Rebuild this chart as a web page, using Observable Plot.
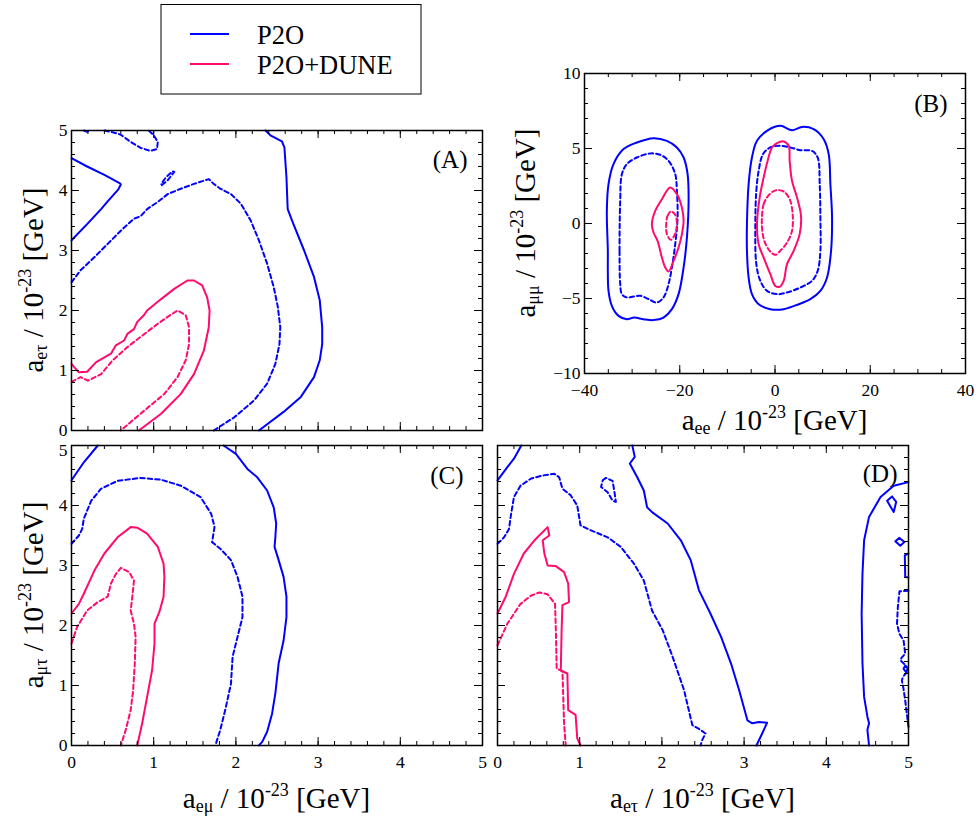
<!DOCTYPE html>
<html>
<head>
<meta charset="utf-8">
<script src="https://cdn.jsdelivr.net/npm/d3@7"></script>
<script src="https://cdn.jsdelivr.net/npm/@observablehq/plot@0.6"></script>
<style>
  body { margin: 0; background: #fff; }
  #chart { position: relative; width: 979px; height: 820px; background: #fff; overflow: hidden;
           font-family: "Liberation Serif", "DejaVu Serif", "Noto Serif", "Times New Roman", serif; }
  #chart svg { position: absolute; }
  #chart svg text { font-family: "Liberation Serif", "DejaVu Serif", "Noto Serif", "Times New Roman", serif; }
</style>
</head>
<body>
<div id="chart"></div>
<script>
// Allowed regions (1σ dashed, 3σ solid) for two experimental setups.
const SERIES = ["P2O", "P2O+DUNE"];
const COLORS = ["#0000ff", "#ff0a6e"];

// ---- Panel A: a_eμ (x) vs a_eτ (y) ----
const A_p2o_solid_corner = [[0,4.54],[0.19,4.40],[0.40,4.26],[0.59,4.12],[0.60,4.10],[0.57,4.02],[0.44,3.82],[0.36,3.69],[0.19,3.44],[0,3.17]];
const A_p2o_solid_main = [[2.36,5.0],[2.42,4.92],[2.56,4.82],[2.59,4.72],[2.615,4.22],[2.63,3.69],[2.70,3.44],[2.83,3.0],[2.95,2.56],[3.02,2.17],[3.05,1.72],[3.05,1.44],[3.02,1.17],[2.95,0.89],[2.79,0.56],[2.58,0.31],[2.28,0]];
const A_p2o_dash_top = [[0.40,5.0],[0.50,4.97],[0.60,4.93],[0.72,4.81],[0.84,4.71],[0.96,4.66],[1.04,4.69],[1.05,4.81],[1.00,4.92],[0.94,5.0]];
const A_p2o_dash_nub = [[0.15,5.0],[0.19,4.98],[0.23,5.0]];
const A_p2o_dash_island = [[1.10,4.09],[1.17,4.17],[1.25,4.31],[1.23,4.32],[1.15,4.22],[1.09,4.11]];
const A_p2o_dash_main = [[0,2.47],[0.11,2.67],[0.28,2.89],[0.44,3.11],[0.60,3.33],[0.76,3.53],[0.84,3.57],[0.92,3.69],[1.05,3.81],[1.17,3.94],[1.33,4.03],[1.49,4.11],[1.67,4.19],[1.73,4.11],[1.81,4.03],[1.94,3.94],[2.06,3.78],[2.18,3.5],[2.28,3.17],[2.38,2.78],[2.46,2.39],[2.51,2.06],[2.54,1.72],[2.53,1.44],[2.48,1.11],[2.38,0.78],[2.22,0.5],[1.98,0.22],[1.73,0]];
const A_dune_solid = [[0,1.11],[0.03,1.06],[0.09,0.97],[0.19,0.98],[0.30,1.14],[0.48,1.28],[0.54,1.42],[0.64,1.5],[0.68,1.61],[0.76,1.69],[0.80,1.81],[0.88,1.92],[0.92,2.0],[1.09,2.19],[1.25,2.36],[1.41,2.5],[1.49,2.5],[1.59,2.42],[1.65,2.22],[1.68,2.0],[1.67,1.72],[1.61,1.33],[1.49,0.94],[1.33,0.61],[1.09,0.28],[0.82,0]];
const A_dune_dash = [[0,0.81],[0.11,0.89],[0.20,0.83],[0.36,0.94],[0.50,1.17],[0.68,1.39],[0.84,1.56],[1.05,1.78],[1.21,1.93],[1.29,2.0],[1.39,1.92],[1.43,1.72],[1.43,1.44],[1.39,1.17],[1.29,0.89],[1.13,0.61],[0.84,0.28],[0.60,0]];

// ---- Panel B: a_ee (x) vs a_μμ (y) ----
const B_p2o_solid_L = [[-35.10,-1.82],[-35.31,0.84],[-34.96,2.62],[-33.91,3.96],[-31.80,4.96],[-29.00,5.40],[-25.50,5.69],[-22.70,5.51],[-20.60,5.07],[-19.19,4.40],[-18.35,3.29],[-18.14,1.51],[-18.49,-0.93],[-19.19,-2.93],[-20.25,-4.71],[-21.65,-5.71],[-23.40,-6.27],[-25.50,-6.44],[-27.60,-6.38],[-29.56,-6.27],[-31.10,-6.38],[-32.85,-6.16],[-34.26,-5.49],[-34.96,-4.49],[-35.10,-3.16]];
const B_p2o_dash_L = [[-32.50,-4.04],[-32.64,-1.82],[-32.50,1.51],[-32.15,3.29],[-31.10,3.96],[-29.00,4.40],[-26.20,4.67],[-24.10,4.58],[-22.35,4.18],[-20.95,3.29],[-20.60,2.18],[-20.46,0.40],[-20.95,-1.38],[-21.65,-2.93],[-22.35,-4.04],[-23.40,-4.93],[-24.80,-5.27],[-26.55,-5.04],[-28.30,-4.82],[-29.70,-4.87],[-31.10,-4.93],[-32.15,-4.71]];
const B_dune_solid_L = [[-25.85,-0.04],[-25.15,0.84],[-23.75,1.62],[-22.00,2.40],[-20.60,1.96],[-19.55,1.07],[-19.19,0.18],[-19.55,-0.71],[-20.25,-1.60],[-21.30,-2.49],[-22.35,-3.20],[-23.05,-2.93],[-23.75,-2.27],[-24.66,-1.16],[-25.50,-0.60]];
const B_dune_dash_L = [[-22.84,-0.04],[-22.56,0.51],[-21.86,0.80],[-20.95,0.58],[-20.60,-0.04],[-20.95,-0.67],[-21.86,-1.09],[-22.70,-0.71]];
const B_p2o_solid_R = [[-5.89,-0.04],[-5.54,2.62],[-4.84,4.40],[-3.78,5.51],[-1.68,6.18],[1.12,6.51],[3.57,6.22],[5.67,6.44],[8.12,6.29],[10.23,5.62],[11.28,4.62],[11.63,2.62],[11.98,0.40],[11.77,-1.82],[10.93,-3.60],[9.53,-4.49],[7.42,-5.04],[4.97,-5.38],[1.82,-5.71],[-0.98,-5.71],[-3.43,-5.38],[-4.84,-4.71],[-5.54,-3.60],[-5.89,-1.82]];
const B_p2o_dash_R = [[-4.13,-0.04],[-3.92,2.18],[-3.43,3.51],[-2.52,4.62],[-0.98,5.07],[1.12,5.18],[3.22,5.07],[5.32,4.89],[7.77,4.84],[8.96,4.40],[9.39,2.62],[9.53,0.40],[9.53,-1.82],[8.96,-3.16],[7.77,-3.82],[5.32,-4.27],[2.52,-4.60],[0.42,-4.71],[-1.68,-4.49],[-3.08,-3.82],[-3.92,-2.71]];
const B_dune_solid_R = [[-3.78,-0.04],[-3.22,1.73],[-2.38,3.07],[-1.54,4.18],[-0.63,5.07],[0.42,5.36],[1.82,5.47],[2.87,5.18],[3.08,4.18],[3.57,2.84],[4.62,1.73],[5.46,0.51],[5.18,-0.71],[3.92,-1.82],[2.52,-2.71],[1.82,-3.82],[0.98,-4.22],[0.07,-4.16],[-0.98,-3.38],[-2.38,-2.27],[-3.43,-1.38]];
const B_dune_dash_R = [[-2.73,0.40],[-2.38,1.29],[-1.12,1.96],[0.28,2.22],[1.82,2.13],[3.08,1.62],[3.71,0.62],[3.57,-0.49],[2.52,-1.27],[1.12,-1.82],[0.07,-2.09],[-1.12,-1.82],[-2.24,-1.16],[-2.73,-0.27]];

// ---- Panel C: a_eμ (x) vs a_μτ (y) ----
const C_p2o_solid_corner = [[0,4.42],[0.15,4.72],[0.32,5.0]];
const C_p2o_solid_main = [[1.85,5.0],[2.0,4.86],[2.14,4.61],[2.26,4.47],[2.38,4.25],[2.46,3.97],[2.49,3.70],[2.48,3.47],[2.47,3.31],[2.52,3.09],[2.58,2.81],[2.615,2.48],[2.615,2.14],[2.58,1.75],[2.52,1.37],[2.48,0.87],[2.44,0.53],[2.38,0.23],[2.32,0.06],[2.28,0]];
const C_p2o_dash = [[0,3.36],[0.09,3.50],[0.13,3.61],[0.15,3.78],[0.24,4.08],[0.36,4.28],[0.56,4.41],[0.84,4.46],[1.09,4.43],[1.33,4.33],[1.57,4.14],[1.70,3.86],[1.74,3.64],[1.71,3.39],[1.81,3.28],[1.94,3.09],[2.02,2.81],[2.08,2.48],[2.08,2.14],[2.02,1.81],[1.96,1.48],[1.94,1.03],[1.87,0.59],[1.81,0.26],[1.75,0]];
const C_dune_solid = [[0,2.20],[0.09,2.36],[0.15,2.53],[0.28,2.92],[0.40,3.20],[0.56,3.47],[0.72,3.64],[0.80,3.63],[0.92,3.53],[1.05,3.31],[1.12,3.03],[1.13,2.81],[1.12,2.48],[1.07,2.23],[1.01,2.03],[1.01,1.70],[0.98,1.25],[0.92,0.81],[0.86,0.37],[0.80,0]];
const C_dune_dash = [[0,1.70],[0.07,1.98],[0.19,2.25],[0.32,2.39],[0.44,2.48],[0.48,2.70],[0.54,2.86],[0.60,2.96],[0.70,2.89],[0.76,2.75],[0.74,2.48],[0.72,2.25],[0.76,2.03],[0.78,1.81],[0.77,1.37],[0.75,0.92],[0.72,0.59],[0.66,0.26],[0.60,0]];

// ---- Panel D: a_eτ (x) vs a_μτ (y) ----
const D_p2o_solid_corner = [[0,4.42],[0.12,4.64],[0.20,4.78],[0.29,5.0]];
const D_p2o_solid_main = [[1.64,5.0],[1.67,4.81],[1.61,4.70],[1.70,4.47],[1.78,4.25],[1.82,3.97],[1.88,3.89],[2.07,3.70],[2.23,3.42],[2.35,3.09],[2.45,2.59],[2.59,2.20],[2.72,1.81],[2.84,1.37],[2.94,0.92],[3.04,0.42],[3.10,0.37],[3.18,0.39],[3.28,0.38],[3.22,0.20],[3.15,0]];
const D_p2o_solid_right = [[5.0,4.39],[4.82,4.33],[4.66,4.14],[4.52,3.81],[4.46,3.42],[4.44,2.86],[4.43,2.20],[4.44,1.37],[4.46,0.81],[4.50,0.48],[4.52,0.37],[4.50,0.26],[4.52,0]];
const D_p2o_solid_isl1 = [[4.80,4.15],[4.85,4.06],[4.82,3.89],[4.74,4.08]];
const D_p2o_solid_isl2 = [[4.84,3.405],[4.89,3.46],[4.95,3.39],[4.90,3.33]];
const D_p2o_solid_edge = [[5.0,3.20],[4.955,3.17],[4.96,2.81],[5.0,2.80]];
const D_p2o_solid_isl3 = [[4.96,1.33],[4.99,1.28],[4.97,1.22],[4.94,1.28]];
const D_p2o_dash_island = [[1.28,4.42],[1.32,4.46],[1.40,4.41],[1.42,4.25],[1.44,4.06],[1.40,4.08],[1.34,4.22],[1.26,4.31]];
const D_p2o_dash_main = [[0,3.36],[0.08,3.47],[0.14,3.61],[0.16,3.81],[0.20,4.14],[0.28,4.33],[0.41,4.45],[0.55,4.50],[0.69,4.53],[0.75,4.47],[0.79,4.28],[0.89,4.17],[0.97,4.0],[1.0,3.75],[1.01,3.67],[1.13,3.59],[1.34,3.47],[1.50,3.31],[1.66,3.03],[1.78,2.75],[1.88,2.25],[2.01,1.92],[2.13,1.48],[2.27,0.92],[2.37,0.34],[2.47,0.26],[2.53,0.20],[2.49,0.09],[2.47,0]];
const D_p2o_dash_right1 = [[5.0,2.58],[4.89,2.57],[4.87,2.30],[4.86,2.03],[4.89,1.86],[4.94,1.75],[4.96,1.53],[4.92,1.47],[4.90,1.42],[4.94,1.37],[4.98,1.31]];
const D_p2o_dash_right2 = [[4.98,1.22],[4.93,1.14],[4.92,1.08],[4.94,0.94],[4.96,0.75],[4.98,0.53],[5.0,0.31]];
const D_dune_solid = [[0,2.20],[0.10,2.48],[0.20,2.86],[0.32,3.20],[0.45,3.42],[0.61,3.64],[0.63,3.50],[0.55,3.42],[0.57,3.20],[0.61,3.00],[0.71,2.99],[0.81,2.89],[0.86,2.70],[0.87,2.39],[0.79,2.34],[0.78,1.92],[0.77,1.25],[0.85,1.20],[0.86,0.59],[0.95,0.51],[0.97,0.12],[1.01,0]];
const D_dune_dash = [[0,1.67],[0.12,2.03],[0.28,2.36],[0.41,2.50],[0.51,2.55],[0.61,2.52],[0.70,2.36],[0.71,1.92],[0.72,1.28],[0.79,1.24],[0.80,0.81],[0.81,0.37],[0.83,0]];

// Tick values
const unitTicks = [0, 1, 2, 3, 4, 5];
const unitMinor = d3.range(0, 5.001, 0.2);
const aeeTicks = [-40, -20, 0, 20, 40];
const aeeMinor = d3.range(-40, 40.001, 5);
const ammTicks = [-10, -5, 0, 5, 10];
const ammMinor = d3.range(-10, 10.001, 1);

// Contour table: panel, series index, dashed, closed, points
const contours = [
  ["A", 0, false, false, A_p2o_solid_corner],
  ["A", 0, false, false, A_p2o_solid_main],
  ["A", 0, true, false, A_p2o_dash_top],
  ["A", 0, true, false, A_p2o_dash_nub],
  ["A", 0, true, true, A_p2o_dash_island],
  ["A", 0, true, false, A_p2o_dash_main],
  ["A", 1, false, false, A_dune_solid],
  ["A", 1, true, false, A_dune_dash],
  ["B", 0, false, true, B_p2o_solid_L],
  ["B", 0, true, true, B_p2o_dash_L],
  ["B", 1, false, true, B_dune_solid_L],
  ["B", 1, true, true, B_dune_dash_L],
  ["B", 0, false, true, B_p2o_solid_R],
  ["B", 0, true, true, B_p2o_dash_R],
  ["B", 1, false, true, B_dune_solid_R],
  ["B", 1, true, true, B_dune_dash_R],
  ["C", 0, false, false, C_p2o_solid_corner],
  ["C", 0, false, false, C_p2o_solid_main],
  ["C", 0, true, false, C_p2o_dash],
  ["C", 1, false, false, C_dune_solid],
  ["C", 1, true, false, C_dune_dash],
  ["D", 0, false, false, D_p2o_solid_corner],
  ["D", 0, false, false, D_p2o_solid_main],
  ["D", 0, false, false, D_p2o_solid_right],
  ["D", 0, false, true, D_p2o_solid_isl1],
  ["D", 0, false, true, D_p2o_solid_isl2],
  ["D", 0, false, false, D_p2o_solid_edge],
  ["D", 0, false, true, D_p2o_solid_isl3],
  ["D", 0, true, true, D_p2o_dash_island],
  ["D", 0, true, false, D_p2o_dash_main],
  ["D", 0, true, false, D_p2o_dash_right1],
  ["D", 0, true, false, D_p2o_dash_right2],
  ["D", 1, false, false, D_dune_solid],
  ["D", 1, true, false, D_dune_dash]
].map(([panel, series, dashed, closed, pts]) => ({panel, series, dashed, closed, pts}));

const FONT = '"Liberation Serif", "DejaVu Serif", "Noto Serif", "Times New Roman", serif';
const minusFormat = d => d < 0 ? "\u2212" + (-d) : String(d);

// Frame geometry of each panel (page pixels)
const panels = [
  {id: "A", left: 71, top: 130, w: 411, h: 300, x: [0, 5], y: [0, 5], xMajor: unitTicks, xMinor: unitMinor, yMajor: unitTicks, yMinor: unitMinor, xLab: false, yLab: true, smooth: false, tag: "(A)", tagDx: -15, tagDy: 37},
  {id: "B", left: 584, top: 73, w: 381, h: 300, x: [-40, 40], y: [-10, 10], xMajor: aeeTicks, xMinor: aeeMinor, yMajor: ammTicks, yMinor: ammMinor, xLab: true, yLab: true, smooth: true, tag: "(B)", tagDx: -18, tagDy: 38},
  {id: "C", left: 71, top: 445, w: 411, h: 300, x: [0, 5], y: [0, 5], xMajor: unitTicks, xMinor: unitMinor, yMajor: unitTicks, yMinor: unitMinor, xLab: true, yLab: true, smooth: false, tag: "(C)", tagDx: -19, tagDy: 38, topLabelDy: 5},
  {id: "D", left: 497, top: 445, w: 411, h: 300, x: [0, 5], y: [0, 5], xMajor: unitTicks, xMinor: unitMinor, yMajor: unitTicks, yMinor: unitMinor, xLab: true, yLab: false, smooth: false, tag: "(D)", tagDx: -11, tagDy: 36}
];

const chart = document.getElementById("chart");
const ml = 45, mr = 12, mt = 12, mb = 40;
const MAJOR = 8, MINOR = 4;
const TICK_FONT = 17.5;

function tickSet(p, xs, ys, len) {
  const st = {stroke: "black", strokeWidth: 1};
  return [
    Plot.tickX(xs, {x: d => d, insetTop: p.h - len, ...st}),
    Plot.tickX(xs, {x: d => d, insetBottom: p.h - len, ...st}),
    Plot.tickY(ys, {y: d => d, insetRight: p.w - len, ...st}),
    Plot.tickY(ys, {y: d => d, insetLeft: p.w - len, ...st})
  ];
}

for (const p of panels) {
  const lines = contours.filter(c => c.panel === p.id).map(c => {
    let pts = c.pts, curve = "linear";
    if (p.smooth) curve = c.closed ? "catmull-rom-closed" : "catmull-rom";
    else if (c.closed) pts = [...c.pts, c.pts[0]];
    return Plot.line(pts, {
      x: d => d[0], y: d => d[1],
      stroke: COLORS[c.series], strokeWidth: 2,
      strokeDasharray: c.dashed ? "4.5,3" : undefined,
      curve
    });
  });
  const marks = [
    ...lines,
    ...tickSet(p, p.xMinor, p.yMinor, MINOR),
    ...tickSet(p, p.xMajor, p.yMajor, MAJOR),
    Plot.frame({stroke: "black", strokeWidth: 1.5}),
    Plot.text([p.tag], {text: d => d, frameAnchor: "top-right", dx: p.tagDx, dy: p.tagDy, textAnchor: "end", lineAnchor: "bottom", fontSize: 25, fill: "black"})
  ];
  if (p.xLab) marks.push(Plot.axisX({ticks: p.xMajor, anchor: "bottom", tickSize: 0, tickPadding: 10, tickFormat: minusFormat, fontSize: TICK_FONT, label: null}));
  if (p.yLab) {
    const top = p.yMajor[p.yMajor.length - 1];
    if (p.topLabelDy) {
      // the top label sits a little lower so it clears the panel above
      marks.push(Plot.axisY({ticks: p.yMajor.slice(0, -1), anchor: "left", tickSize: 0, tickPadding: 4, tickFormat: minusFormat, fontSize: TICK_FONT, label: null}));
      marks.push(Plot.axisY({ticks: [top], anchor: "left", tickSize: 0, tickPadding: 4, tickFormat: minusFormat, fontSize: TICK_FONT, label: null, dy: p.topLabelDy}));
    } else {
      marks.push(Plot.axisY({ticks: p.yMajor, anchor: "left", tickSize: 0, tickPadding: 4, tickFormat: minusFormat, fontSize: TICK_FONT, label: null}));
    }
  }
  const svg = Plot.plot({
    width: ml + p.w + mr, height: mt + p.h + mb,
    marginLeft: ml, marginRight: mr, marginTop: mt, marginBottom: mb,
    x: {domain: p.x, axis: p.xLab ? undefined : null},
    y: {domain: p.y, axis: p.yLab ? undefined : null},
    style: {fontFamily: FONT, fontSize: TICK_FONT + "px", color: "black", background: "transparent", overflow: "visible"},
    marks
  });
  svg.style.left = (p.left - ml) + "px";
  svg.style.top = (p.top - mt) + "px";
  chart.appendChild(svg);
}

// Axis titles and legend
const over = d3.select(chart).append("svg")
  .attr("width", 979).attr("height", 820)
  .style("left", "0px").style("top", "0px")
  .style("font-family", FONT).style("overflow", "visible");

function axisTitle(x, y, sub, rotate) {
  const t = over.append("text")
    .attr("text-anchor", "middle").attr("font-size", 29).attr("fill", "black")
    .style("white-space", "pre")
    .attr("transform", `translate(${x},${y})` + (rotate ? " rotate(-90)" : ""));
  t.append("tspan").text("a");
  t.append("tspan").attr("font-size", 18).attr("dy", 4).text(sub);
  t.append("tspan").attr("dy", -4).text(" / 10");
  t.append("tspan").attr("font-size", 18).attr("dy", -12).text("-23");
  t.append("tspan").attr("dy", 12).text(" [GeV]");
}
axisTitle(43, 280, "eτ", true);
axisTitle(43, 595, "μτ", true);
axisTitle(535, 223, "μμ", true);
axisTitle(774.5, 430, "ee", false);
axisTitle(276.5, 808, "eμ", false);
axisTitle(702.5, 808, "eτ", false);

const leg = over.append("g");
leg.append("rect").attr("x", 161).attr("y", 4.5).attr("width", 260).attr("height", 89.5)
  .attr("fill", "white").attr("stroke", "black").attr("stroke-width", 1);
SERIES.forEach((name, i) => {
  const cy = 34 + i * 30;
  leg.append("line").attr("x1", 190).attr("x2", 229).attr("y1", cy).attr("y2", cy)
    .attr("stroke", COLORS[i]).attr("stroke-width", 2);
  leg.append("text").attr("x", 257).attr("y", cy + 9.5).attr("font-size", 26.5).attr("fill", "black").text(name);
});
</script>
</body>
</html>
